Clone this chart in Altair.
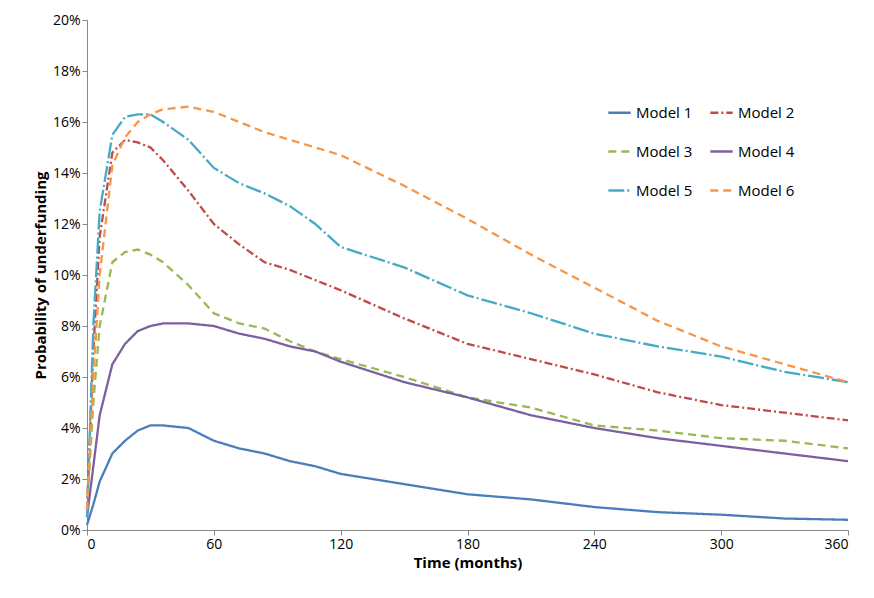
import altair as alt
import pandas as pd

months = [0, 3, 6, 12, 18, 24, 30, 36, 48, 60, 72, 84, 96, 108, 120, 150, 180, 210, 240, 270, 300, 330, 360]
model1 = [0.2, 1.0, 1.9, 3.0, 3.5, 3.9, 4.1, 4.1, 4.0, 3.5, 3.2, 3.0, 2.7, 2.5, 2.2, 1.8, 1.4, 1.2, 0.9, 0.7, 0.6, 0.45, 0.4]
model2 = [0.8, 7.0, 11.5, 14.8, 15.3, 15.2, 15.0, 14.5, 13.3, 12.0, 11.2, 10.5, 10.2, 9.8, 9.4, 8.3, 7.3, 6.7, 6.1, 5.4, 4.9, 4.6, 4.3]
model3 = [0.8, 5.0, 8.0, 10.5, 10.9, 11.0, 10.8, 10.5, 9.6, 8.5, 8.1, 7.9, 7.4, 7.0, 6.7, 6.0, 5.2, 4.8, 4.1, 3.9, 3.6, 3.5, 3.2]
model4 = [0.5, 2.5, 4.5, 6.5, 7.3, 7.8, 8.0, 8.1, 8.1, 8.0, 7.7, 7.5, 7.2, 7.0, 6.6, 5.8, 5.2, 4.5, 4.0, 3.6, 3.3, 3.0, 2.7]
model5 = [0.5, 8.0, 12.5, 15.5, 16.2, 16.3, 16.3, 16.0, 15.3, 14.2, 13.6, 13.2, 12.7, 12.0, 11.1, 10.3, 9.2, 8.5, 7.7, 7.2, 6.8, 6.2, 5.8]
model6 = [0.8, 6.0, 10.0, 14.3, 15.4, 16.0, 16.3, 16.5, 16.6, 16.4, 16.0, 15.6, 15.3, 15.0, 14.7, 13.5, 12.2, 10.8, 9.5, 8.2, 7.2, 6.5, 5.8]

names = ["Model 1", "Model 2", "Model 3", "Model 4", "Model 5", "Model 6"]
series = [model1, model2, model3, model4, model5, model6]
colors = ["#4a7ebb", "#be4b48", "#98b954", "#7d60a0", "#46aac5", "#f79646"]
dashes = [[1, 0], [8, 3, 2, 3], [8, 5], [1, 0], [16, 3, 2, 3], [8, 5]]

rows = []
for n, s in zip(names, series):
    for m, v in zip(months, s):
        rows.append({"Month": m, "Prob": v / 100, "Model": n})
df = pd.DataFrame(rows)

legend = alt.Legend(title=None, orient="none", legendX=520, legendY=80, columns=2, direction="horizontal",
                    symbolType="stroke", symbolSize=500, symbolStrokeWidth=2.5,
                    labelFontSize=15, rowPadding=18, columnPadding=12, labelColor="#000")

chart = alt.Chart(df).mark_line(strokeWidth=2.3).encode(
    x=alt.X("Month:Q", title="Time (months)",
            scale=alt.Scale(domain=[0, 360], nice=False),
            axis=alt.Axis(values=list(range(0, 361, 60)), grid=False)),
    y=alt.Y("Prob:Q", title="Probability of underfunding",
            scale=alt.Scale(domain=[0, 0.2]),
            axis=alt.Axis(format=".0%", values=[i / 100 for i in range(0, 21, 2)], grid=False)),
    color=alt.Color("Model:N", scale=alt.Scale(domain=names, range=colors), legend=legend),
    strokeDash=alt.StrokeDash("Model:N", scale=alt.Scale(domain=names, range=dashes), legend=legend),
).properties(width=761, height=510, padding={"left": 25, "top": 5, "right": 5, "bottom": 5}).configure_axis(
    labelFontSize=14, titleFontSize=15, titleFontWeight="bold", labelColor="#000", titleColor="#000",
    domainColor="#888", tickColor="#888", labelFont="Open Sans", titleFont="Open Sans"
).configure_legend(labelFont="Open Sans").configure_view(stroke=None)

chart.save("out.html", embed_options={"renderer": "svg", "actions": False})
